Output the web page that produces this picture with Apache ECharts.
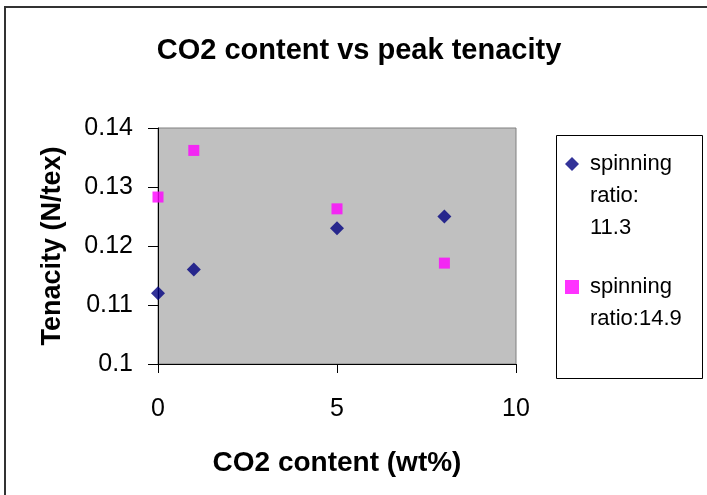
<!DOCTYPE html>
<html>
<head>
    <meta charset='utf-8' />
    <title>CO2 content vs peak tenacity</title>
    <script src="https://cdn.jsdelivr.net/npm/echarts@6/dist/echarts.min.js"></script>
</head>
<body style='margin:0;width: 707px;height:495px;background:#fff;'>
<div id='chart' style='width:707px;height:495px;'></div>

<script type='text/javascript'>
    // CO2 content (wt%) and peak tenacity (N/tex)
    var co2 = [0, 1, 5, 8];
    var ratio113 = [0.112, 0.116, 0.123, 0.125];
    var ratio149 = [0.1283, 0.1362, 0.1263, 0.1171];
    var seriesNames = ['spinning ratio: 11.3', 'spinning ratio:14.9'];
    // legend text as it wraps in the box
    var legendLines = {
        'spinning ratio: 11.3': ['spinning', 'ratio:', '11.3'],
        'spinning ratio:14.9': ['spinning', 'ratio:14.9']
    };

    function pairs(xs, ys) {
        return xs.map(function (x, i) { return [x, ys[i]]; });
    }

    // icon sits in the middle of the text block, so pad blank lines above
    // to bring the first line level with the icon
    function legendText(n) {
        var lines = legendLines[n];
        var out = [];
        for (var i = 0; i < lines.length - 1; i++) out.push('{t| }');
        lines.forEach(function (l) { out.push('{t|' + l + '}'); });
        return out.join('\n');
    }

    var font = 'Liberation Sans, Arial, sans-serif';
    var legendRich = { t: { fontFamily: font, fontSize: 22, color: '#000', lineHeight: 32, padding: [0, 0, 0, 6] } };

    var myChart = echarts.init(document.getElementById('chart'));

    var option = {
        backgroundColor: '#fff',
        title: {
            text: 'CO2 content vs peak tenacity',
            left: 354,
            top: 31,
            textAlign: 'center',
            textStyle: { fontFamily: font, fontSize: 29, fontWeight: 'bold', color: '#000' }
        },
        graphic: [
            { type: 'rect', shape: { x: 5, y: 7, width: 720, height: 500 },
              style: { fill: 'none', stroke: '#333', lineWidth: 2 }, silent: true },
            { type: 'rect', shape: { x: 556.5, y: 135.5, width: 146, height: 243 },
              style: { fill: '#fff', stroke: '#000', lineWidth: 1 }, silent: true, z: -1 }
        ],
        legend: [
            {
                data: [seriesNames[0]],
                left: 565, top: 89,
                padding: 0,
                itemWidth: 14, itemHeight: 14,
                formatter: legendText,
                textStyle: { rich: legendRich }
            },
            {
                data: [seriesNames[1]],
                left: 565, top: 244,
                padding: 0,
                itemWidth: 14, itemHeight: 14,
                formatter: legendText,
                textStyle: { rich: legendRich }
            }
        ],
        grid: {
            left: 158, right: 191, top: 128, bottom: 131,
            show: true, backgroundColor: '#c0c0c0', borderColor: '#808080', borderWidth: 1
        },
        xAxis: {
            type: 'value', min: 0, max: 10, interval: 5,
            name: 'CO2 content (wt%)', nameLocation: 'middle', nameGap: 85,
            nameTextStyle: { fontFamily: font, fontSize: 28, fontWeight: 'bold', color: '#000' },
            axisLine: { lineStyle: { color: '#000', width: 1 } },
            axisTick: { show: true, inside: false, length: 9, lineStyle: { color: '#000' } },
            axisLabel: { fontFamily: font, fontSize: 25, color: '#000', margin: 33 },
            splitLine: { show: false }
        },
        yAxis: {
            type: 'value', min: 0.1, max: 0.14, interval: 0.01,
            name: 'Tenacity (N/tex)', nameLocation: 'middle', nameGap: 92, nameRotate: 90,
            nameTextStyle: { fontFamily: font, fontSize: 27, fontWeight: 'bold', color: '#000' },
            axisLine: { show: true, lineStyle: { color: '#000', width: 1 } },
            axisTick: { show: true, inside: false, length: 10, lineStyle: { color: '#000' } },
            axisLabel: { fontFamily: font, fontSize: 25, color: '#000', margin: 25 },
            splitLine: { show: false }
        },
        series: [
            {
                name: seriesNames[0], type: 'scatter', symbol: 'diamond', symbolSize: 14,
                itemStyle: { color: '#000080' },
                data: pairs(co2, ratio113)
            },
            {
                name: seriesNames[1], type: 'scatter', symbol: 'rect', symbolSize: 11,
                itemStyle: { color: '#ff00ff' },
                data: pairs(co2, ratio149)
            }
        ]
    };

    myChart.setOption(option);
</script>
</body>
</html>
